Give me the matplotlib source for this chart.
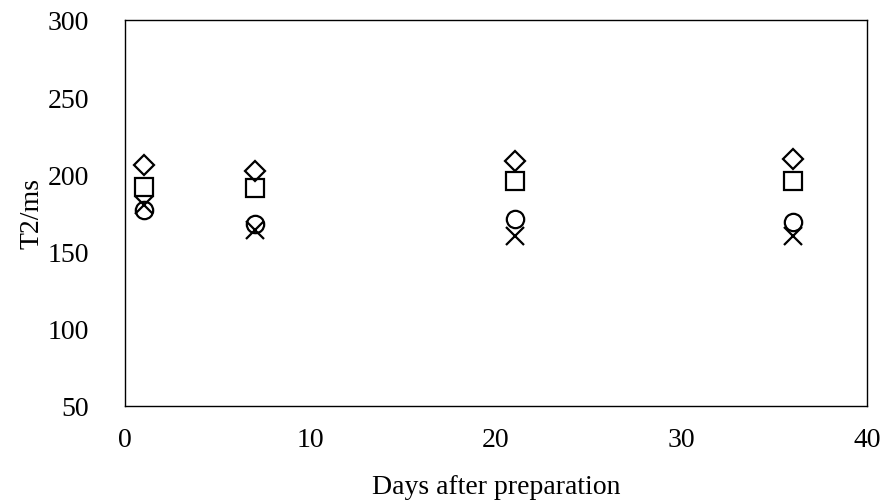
import matplotlib
matplotlib.use("Agg")
import matplotlib.pyplot as plt

days = [1, 7, 21, 36]
diamond = [206, 202, 209, 210]
square = [192, 191, 196, 196]
circle = [177, 168, 171, 169]
cross = [180, 164, 160, 160]

plt.rcParams['font.family'] = ['Liberation Serif', 'DejaVu Serif']

fig = plt.figure(figsize=(8.88, 5.02), dpi=100)
ax = fig.add_axes([125/888, 1 - 407/502, (867-125)/888, (407-21)/502])

common = dict(linestyle='none', markerfacecolor='none', markeredgecolor='black', markeredgewidth=1.6)
ax.plot(days, diamond, marker='D', markersize=10.5, **common)
ax.plot(days, square, marker='s', markersize=13, **common)
ax.plot(days, circle, marker='o', markersize=12.5, **common)
ax.plot(days, cross, marker='x', markersize=13, linestyle='none', color='black', markeredgewidth=1.6)

ax.set_xlim(0, 40)
ax.set_ylim(50, 300)
ax.set_xticks([0, 10, 20, 30, 40])
ax.set_yticks([50, 100, 150, 200, 250, 300])
ax.tick_params(length=0, labelsize=20)
ax.tick_params(axis='x', pad=15)
ax.tick_params(axis='y', pad=26)
for s in ax.spines.values():
    s.set_linewidth(1.0)
    s.set_color('black')
ax.set_xlabel('Days after preparation', fontsize=20, labelpad=16)
ax.set_ylabel('T2/ms', fontsize=20, labelpad=2)

fig.savefig('out.png', dpi=100)
